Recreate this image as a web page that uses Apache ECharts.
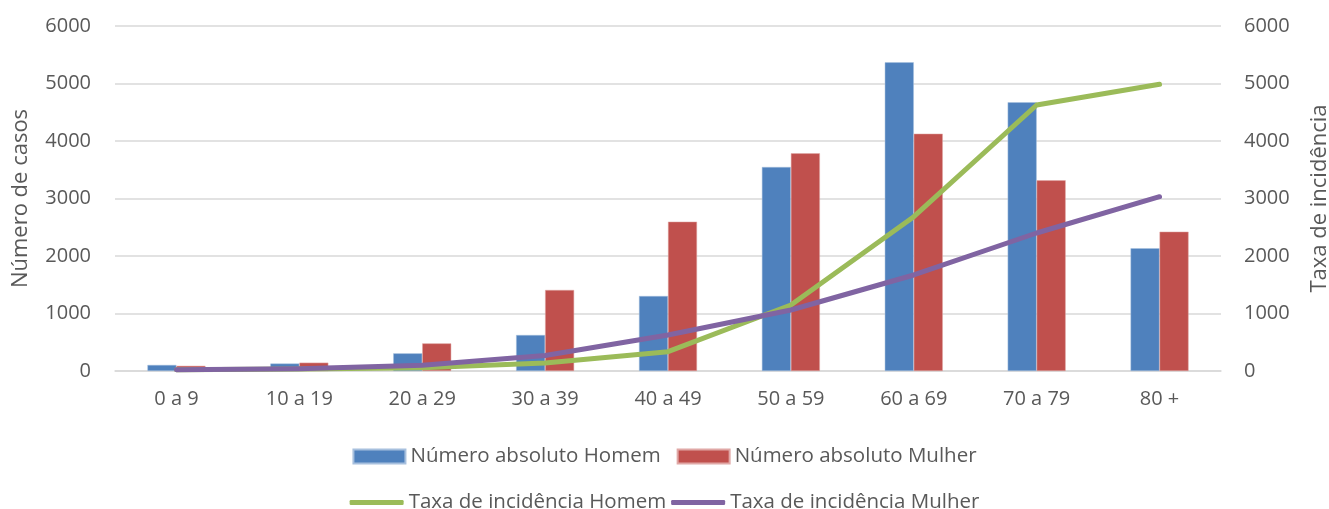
<!DOCTYPE html>
<html>
<head>
<meta charset="utf-8">
<script src="https://cdn.jsdelivr.net/npm/echarts@6/dist/echarts.min.js"></script>
<style>
  html, body { margin: 0; padding: 0; background: #fff; }
  #chart { width: 1329px; height: 509px; }
</style>
</head>
<body>
<div id="chart"></div>
<script>
// Age groups
const faixas = ['0 a 9', '10 a 19', '20 a 29', '30 a 39', '40 a 49', '50 a 59', '60 a 69', '70 a 79', '80 +'];
// Absolute number of cases
const absHomem = [105, 130, 307, 626, 1304, 3548, 5368, 4673, 2134];
const absMulher = [90, 145, 480, 1409, 2597, 3786, 4127, 3316, 2423];
// Incidence rate
const taxaHomem = [20, 35, 55, 140, 336, 1148, 2684, 4626, 4986];
const taxaMulher = [20, 40, 100, 270, 626, 1061, 1670, 2400, 3031];
// Axis ticks
const yTicks = { min: 0, max: 6000, interval: 1000 };

const FONT = 'Open Sans';
const TXT = '#595959';
const GRID = '#d9d9d9';
const C_BLUE = '#4f81bd', C_RED = '#c0504d', C_GREEN = '#9bbb59', C_PURPLE = '#8064a2';

const plain = v => String(v);

const chart = echarts.init(document.getElementById('chart'));
chart.setOption({
  animation: false,
  textStyle: { fontFamily: FONT, color: TXT },
  grid: { left: 115, right: 108, top: 26, bottom: 138, outerBoundsMode: 'none', containLabel: false },
  legend: [
    {
      top: 441, left: 'center', itemGap: 16, itemWidth: 52, itemHeight: 14,
      icon: 'rect',
      textStyle: { fontFamily: FONT, fontSize: 20.5, color: TXT, padding: [0, 0, 0, 0] },
      data: ['Número absoluto Homem', 'Número absoluto Mulher']
    },
    {
      top: 487, left: 'center', itemGap: 5, itemWidth: 54, itemHeight: 5,
      icon: 'roundRect',
      textStyle: { fontFamily: FONT, fontSize: 20.5, color: TXT, padding: [0, 0, 0, 0] },
      data: ['Taxa de incidência Homem', 'Taxa de incidência Mulher']
    }
  ],
  xAxis: {
    type: 'category',
    data: faixas,
    axisLine: { lineStyle: { color: GRID, width: 1.5 } },
    axisTick: { show: false },
    axisLabel: { fontFamily: FONT, fontSize: 20, color: TXT, margin: 18 }
  },
  yAxis: [
    {
      type: 'value', min: yTicks.min, max: yTicks.max, interval: yTicks.interval,
      name: 'Número de casos', nameLocation: 'middle', nameGap: 83,
      nameTextStyle: { fontFamily: FONT, fontSize: 22, color: TXT },
      axisLine: { show: false }, axisTick: { show: false },
      axisLabel: { fontFamily: FONT, fontSize: 20, color: TXT, margin: 24, formatter: plain },
      splitLine: { lineStyle: { color: GRID, width: 1.5 } }
    },
    {
      type: 'value', min: yTicks.min, max: yTicks.max, interval: yTicks.interval,
      name: 'Taxa de incidência', nameLocation: 'middle', nameGap: 88, nameRotate: 90,
      nameTextStyle: { fontFamily: FONT, fontSize: 22, color: TXT },
      axisLine: { show: false }, axisTick: { show: false },
      axisLabel: { fontFamily: FONT, fontSize: 20, color: TXT, margin: 23, formatter: plain },
      splitLine: { show: false }
    }
  ],
  series: [
    {
      name: 'Número absoluto Homem', type: 'bar', data: absHomem,
      barWidth: 29, barGap: '0%',
      itemStyle: { color: C_BLUE, borderColor: '#a7c0de', borderWidth: 0.5 }
    },
    {
      name: 'Número absoluto Mulher', type: 'bar', data: absMulher,
      barWidth: 29,
      itemStyle: { color: C_RED, borderColor: '#e0a8a6', borderWidth: 0.5 }
    },
    {
      name: 'Taxa de incidência Homem', type: 'line', yAxisIndex: 1, data: taxaHomem,
      symbol: 'none', itemStyle: { color: C_GREEN },
      lineStyle: { color: C_GREEN, width: 5, cap: 'round', join: 'round' }
    },
    {
      name: 'Taxa de incidência Mulher', type: 'line', yAxisIndex: 1, data: taxaMulher,
      symbol: 'none', itemStyle: { color: C_PURPLE },
      lineStyle: { color: C_PURPLE, width: 5, cap: 'round', join: 'round' }
    }
  ]
});
</script>
</body>
</html>
